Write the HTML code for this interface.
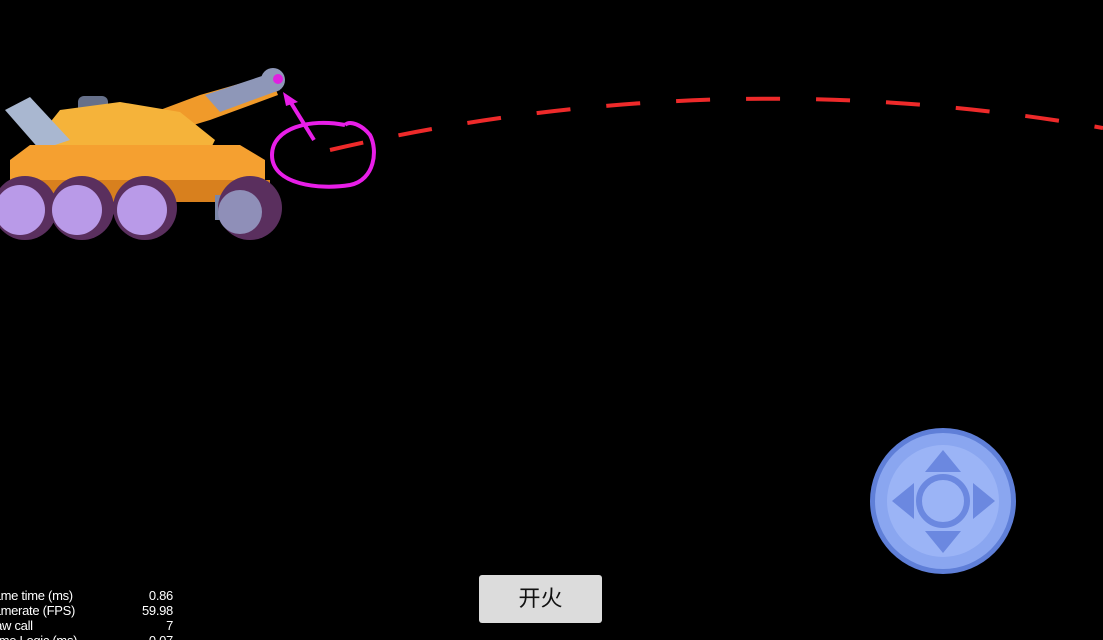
<!DOCTYPE html>
<html><head><meta charset="utf-8"><style>
html,body{margin:0;padding:0;background:#000;width:1103px;height:640px;overflow:hidden;position:relative;font-family:"Liberation Sans","Noto Sans CJK SC",sans-serif}
.stats{position:absolute;left:-18px;top:588px;color:#fff;font-size:13px;line-height:15px;letter-spacing:-0.3px}
.stats div{position:relative;width:191px;height:15px}
.stats span{position:absolute;right:0}
.btn{position:absolute;left:479px;top:575px;width:123px;height:48px;background:#dcdcdc;border-radius:3px;color:#111;font-size:22px;text-align:center;line-height:48px}
</style></head><body>
<svg width="1103" height="640" style="position:absolute;left:0;top:0">
<path d="M330,150 Q716,60 1103,128" fill="none" stroke="#ee2a2a" stroke-width="4" stroke-dasharray="34,36"/>
<g>
<polygon points="160,110 200,95 270,75 278,95 210,120 170,132" fill="#f09a2a"/>
<polygon points="205,95 265,75 280,90 220,112" fill="#8e97b8"/>
<circle cx="273" cy="80" r="12" fill="#8e97b8"/>
<circle cx="278" cy="79" r="5" fill="#e020e0"/>
<rect x="78" y="96" width="30" height="18" rx="6" fill="#66708a"/>
<polygon points="40,135 60,110 120,102 180,112 215,140 210,150 45,150" fill="#f5b33a"/>
<polygon points="5,110 30,97 70,140 40,150" fill="#a9b7d0"/>
<polygon points="10,160 30,145 240,145 265,160 265,200 10,200" fill="#f5a030"/>
<rect x="10" y="180" width="260" height="22" fill="#d8801e"/>
<rect x="215" y="195" width="50" height="25" fill="#7c86a8"/>
<circle cx="25" cy="208" r="32" fill="#5a2f5e"/>
<circle cx="82" cy="208" r="32" fill="#5a2f5e"/>
<circle cx="145" cy="208" r="32" fill="#5a2f5e"/>
<circle cx="250" cy="208" r="32" fill="#5a2f5e"/>
<circle cx="20" cy="210" r="25" fill="#b99ae8"/>
<circle cx="77" cy="210" r="25" fill="#b99ae8"/>
<circle cx="142" cy="210" r="25" fill="#b99ae8"/>
<circle cx="240" cy="212" r="22" fill="#8f8fb8"/>
</g>
<path d="M345,125 C310,118 272,128 272,155 C272,185 320,190 350,185 C375,180 378,150 370,135 C362,125 350,120 345,125" fill="none" stroke="#e81ee8" stroke-width="4"/>
<line x1="314" y1="140" x2="288" y2="98" stroke="#e81ee8" stroke-width="4"/>
<polygon points="283,92 298,102 286,106" fill="#e81ee8"/>
<circle cx="943" cy="501" r="73" fill="#5f7fd8"/>
<circle cx="943" cy="501" r="68" fill="#8aa6f0"/>
<circle cx="943" cy="501" r="56" fill="#9bb4f6"/>
<circle cx="943" cy="501" r="24" fill="none" stroke="#6b88e0" stroke-width="6"/>
<polygon points="943,450 925,472 961,472" fill="#6b88e0"/>
<polygon points="943,553 925,531 961,531" fill="#6b88e0"/>
<polygon points="892,501 914,483 914,519" fill="#6b88e0"/>
<polygon points="995,501 973,483 973,519" fill="#6b88e0"/>
</svg>
<div class="stats">
<div>Frame time (ms)<span>0.86</span></div>
<div>Framerate (FPS)<span>59.98</span></div>
<div>Draw call<span>7</span></div>
<div>Game Logic (ms)<span>0.07</span></div>
</div>
<div class="btn">开火</div>
</body></html>
